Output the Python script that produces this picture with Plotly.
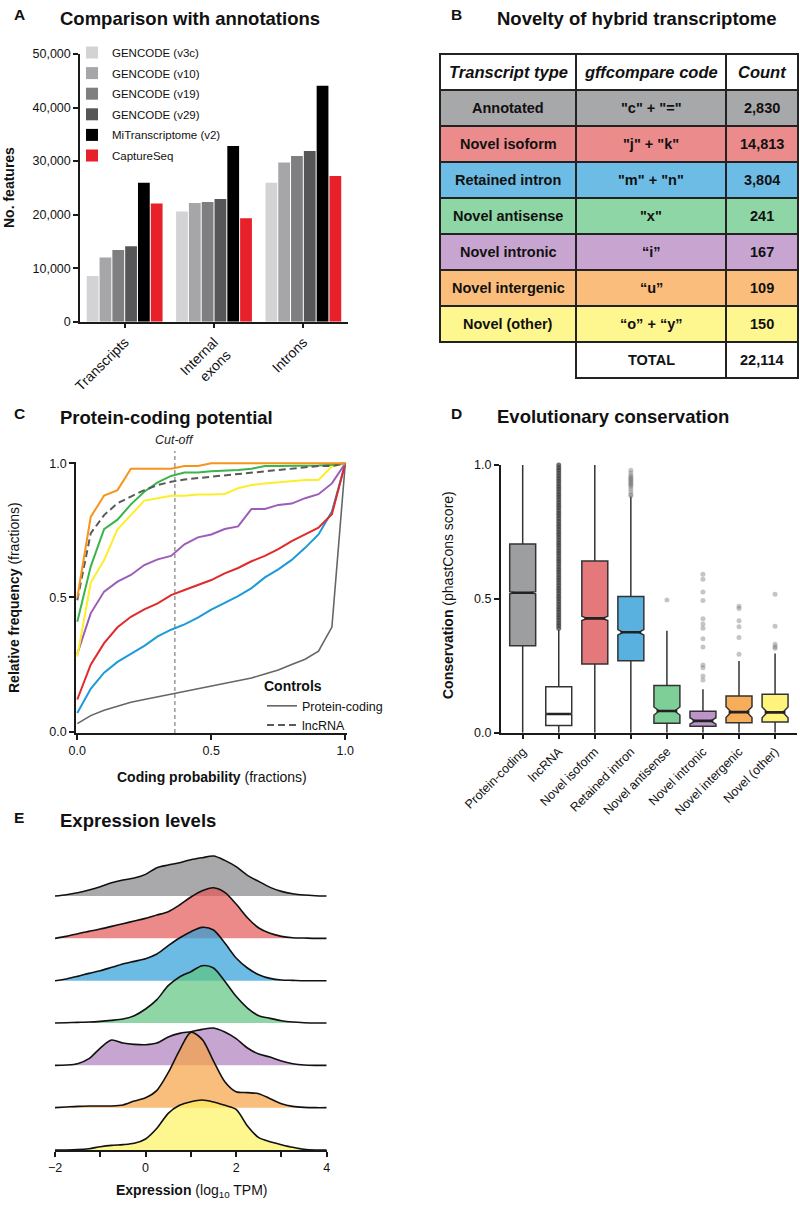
import plotly.graph_objects as go

W, H = 800, 1205
FONT = "Liberation Sans, Arial, Helvetica, sans-serif"

# ======================= DATA =======================
# ---- Panel A: comparison with annotations ----
A_categories = ["Transcripts", "Internal<br>exons", "Introns"]
A_series = ["GENCODE (v3c)", "GENCODE (v10)", "GENCODE (v19)", "GENCODE (v29)",
            "MiTranscriptome (v2)", "CaptureSeq"]
A_gencode_v3c = [8550, 20600, 25950]
A_gencode_v10 = [12000, 22150, 29750]
A_gencode_v19 = [13400, 22350, 30950]
A_gencode_v29 = [14100, 22900, 31900]
A_mitranscriptome = [25950, 32800, 44050]
A_captureseq = [22100, 19300, 27200]
A_yticks = [0, 10000, 20000, 30000, 40000, 50000]

# ---- Panel B: novelty table ----
B_header = ["Transcript type", "gffcompare code", "Count"]
B_types = ["Annotated", "Novel isoform", "Retained intron", "Novel antisense",
           "Novel intronic", "Novel intergenic", "Novel (other)"]
B_codes = ['"c" + "="', '"j" + "k"', '"m" + "n"', '"x"', "“i”", "“u”", "“o” + “y”"]
B_counts = [2830, 14813, 3804, 241, 167, 109, 150]
B_total_label = "TOTAL"

# ---- Panel C: protein-coding potential (cumulative fractions) ----
C_x = [0.0, 0.05, 0.1, 0.15, 0.2, 0.25, 0.3, 0.35, 0.4, 0.45, 0.5,
       0.55, 0.6, 0.65, 0.7, 0.75, 0.8, 0.85, 0.9, 0.95, 1.0]
C_protein_coding = [0.03, 0.06, 0.08, 0.095, 0.11, 0.12, 0.13, 0.14, 0.15, 0.16, 0.17,
                    0.18, 0.19, 0.20, 0.215, 0.23, 0.25, 0.27, 0.30, 0.39, 1.0]
C_retained_intron = [0.07, 0.16, 0.22, 0.26, 0.29, 0.32, 0.355, 0.38, 0.40, 0.425, 0.455,
                     0.48, 0.505, 0.535, 0.575, 0.605, 0.64, 0.685, 0.735, 0.82, 1.0]
C_novel_isoform = [0.12, 0.25, 0.33, 0.389, 0.428, 0.456, 0.478, 0.509, 0.528, 0.545, 0.565,
                   0.59, 0.61, 0.635, 0.655, 0.68, 0.71, 0.735, 0.76, 0.81, 1.0]
C_novel_intronic = [0.29, 0.441, 0.522, 0.559, 0.584, 0.621, 0.642, 0.655, 0.698, 0.724, 0.735,
                    0.755, 0.765, 0.83, 0.83, 0.845, 0.85, 0.87, 0.885, 0.925, 1.0]
C_novel_other = [0.28, 0.555, 0.64, 0.754, 0.807, 0.861, 0.87, 0.879, 0.879, 0.884, 0.884,
                 0.886, 0.907, 0.919, 0.925, 0.93, 0.935, 0.938, 0.938, 0.988, 1.0]
C_novel_antisense = [0.41, 0.615, 0.755, 0.79, 0.847, 0.894, 0.929, 0.953, 0.966, 0.966, 0.97,
                     0.972, 0.975, 0.98, 0.99, 0.99, 0.99, 0.99, 0.992, 0.995, 1.0]
C_lncrna = [0.49, 0.739, 0.807, 0.851, 0.876, 0.90, 0.919, 0.931, 0.94, 0.945, 0.95,
            0.955, 0.96, 0.965, 0.97, 0.975, 0.98, 0.985, 0.99, 0.99, 1.0]
C_novel_intergenic = [0.50, 0.80, 0.88, 0.90, 0.98, 0.98, 0.98, 0.98, 0.99, 0.99, 1.0,
                      1.0, 1.0, 1.0, 1.0, 1.0, 1.0, 1.0, 1.0, 1.0, 1.0]
C_cutoff = 0.364
C_ticks = [0.0, 0.5, 1.0]
C_ticktext = ["0.0", "0.5", "1.0"]

# ---- Panel D: evolutionary conservation (box statistics) ----
D_names = ["Protein-coding", "lncRNA", "Novel isoform", "Retained intron",
           "Novel antisense", "Novel intronic", "Novel intergenic", "Novel (other)"]
D_q1 = [0.325, 0.027, 0.257, 0.269, 0.035, 0.024, 0.037, 0.040]
D_median = [0.523, 0.070, 0.427, 0.375, 0.081, 0.044, 0.077, 0.076]
D_q3 = [0.705, 0.172, 0.641, 0.509, 0.176, 0.080, 0.137, 0.144]
D_lowerfence = [0.0, 0.0, 0.0, 0.0, 0.0, 0.0, 0.0, 0.0]
D_upperfence = [1.0, 0.384, 1.0, 0.882, 0.381, 0.162, 0.268, 0.296]
D_notchspan = [0.004, 0.003, 0.008, 0.010, 0.015, 0.012, 0.020, 0.020]
D_outliers = [
    [],
    [0.39, 0.40, 0.41, 0.42, 0.43, 0.44, 0.45, 0.46, 0.47, 0.48, 0.49, 0.50, 0.51,
     0.52, 0.53, 0.54, 0.55, 0.56, 0.57, 0.58, 0.59, 0.60, 0.61, 0.62, 0.63, 0.64,
     0.65, 0.66, 0.67, 0.68, 0.69, 0.70, 0.71, 0.72, 0.73, 0.74, 0.75, 0.76, 0.77,
     0.78, 0.79, 0.80, 0.81, 0.82, 0.83, 0.84, 0.85, 0.86, 0.87, 0.88, 0.89, 0.90,
     0.91, 0.92, 0.93, 0.94, 0.95, 0.96, 0.97, 0.98, 0.99, 1.00],
    [],
    [0.885, 0.89, 0.90, 0.91, 0.92, 0.925, 0.93, 0.935, 0.94, 0.945, 0.95, 0.955,
     0.96, 0.97, 0.98],
    [0.496],
    [0.592, 0.573, 0.526, 0.494, 0.426, 0.406, 0.39, 0.351, 0.32, 0.253, 0.243,
     0.212, 0.197],
    [0.472, 0.464, 0.418, 0.396, 0.356, 0.293],
    [0.517, 0.398, 0.33, 0.321, 0.315],
]
D_ticks = [0.0, 0.5, 1.0]
D_ticktext = ["0.0", "0.5", "1.0"]

# ---- Panel E: expression levels (ridge densities, relative heights) ----
E_names = ["Annotated", "Novel isoform", "Retained intron", "Novel antisense",
           "Novel intronic", "Novel intergenic", "Novel (other)"]
E_x = [-2.0, -1.75, -1.5, -1.25, -1.0, -0.75, -0.5, -0.25, 0.0, 0.25, 0.5, 0.75,
       1.0, 1.25, 1.5, 1.75, 2.0, 2.25, 2.5, 2.75, 3.0, 3.25, 3.5, 3.75, 4.0]
E_annotated = [0, 4, 10, 18, 28, 40, 48, 54, 65, 85, 93, 100,
               109, 115, 120, 107, 88, 62, 44, 26, 14, 7, 3, 1, 0]
E_novel_isoform = [0, 6, 14, 21, 28, 36, 44, 52, 60, 70, 80, 100,
                   124, 143, 152, 138, 103, 62, 31, 15, 6, 2, 1, 0, 0]
E_retained_intron = [0, 5, 13, 22, 30, 40, 50, 58, 66, 80, 105, 128,
                     147, 160, 152, 113, 68, 38, 18, 7, 2, 1, 0, 0, 0]
E_novel_antisense = [0, 1, 2, 3, 5, 8, 12, 22, 42, 70, 112, 138,
                     154, 172, 165, 125, 80, 45, 22, 14, 7, 3, 1, 0, 0]
E_novel_intronic = [0, 1, 5, 20, 52, 76, 67, 63, 62, 67, 85, 96,
                    101, 108, 112, 100, 80, 52, 34, 25, 13, 5, 1, 0, 0]
E_novel_intergenic = [0, 2, 4, 5, 5, 5, 8, 20, 30, 52, 105, 172,
                      226, 205, 140, 78, 48, 45, 42, 27, 12, 4, 1, 0, 0]
E_novel_other = [0, 0, 1, 4, 10, 14, 16, 20, 33, 65, 110, 134,
                 145, 150, 144, 134, 122, 72, 37, 25, 16, 8, 2, 0, 0]
E_ticks = [-2, 0, 2, 4]
E_ticktext = ["−2", "0", "2", "4"]

# ======================= STYLE =======================
AXC = "#1a1a1a"
A_colors = ["#d3d3d5", "#a6a6a9", "#7f7f82", "#565658", "#000000", "#e8202a"]
B_row_colors = ["#a7a8aa", "#ec8b8b", "#6dbce5", "#8fd6a6", "#c7a5d0", "#fabd7b", "#fef78f"]
D_colors = ["#9d9ea0", "#ffffff", "#e5787a", "#58b1df", "#7dce97", "#bc94c9", "#f8ad5b", "#fdf37d"]
E_fill = ["rgba(132,132,135,0.7)", "rgba(226,88,86,0.7)", "rgba(45,158,217,0.7)",
          "rgba(95,197,128,0.7)", "rgba(174,127,188,0.7)", "rgba(248,162,68,0.7)",
          "rgba(254,242,95,0.7)"]
E_SCALE = 1 / 127.0   # relative height -> ridge spacing units
D_BOXW = 0.72
D_NOTCHW = 0.2


def px(x):
    return x / W


def py(y):
    return 1 - y / H


fig = go.Figure()

# ---------------- Panel A ----------------
A_values = [A_gencode_v3c, A_gencode_v10, A_gencode_v19, A_gencode_v29,
            A_mitranscriptome, A_captureseq]
for name, vals, col in zip(A_series, A_values, A_colors):
    fig.add_trace(go.Bar(x=A_categories, y=vals, name=name,
                         marker=dict(color=col, line=dict(width=0)),
                         xaxis="x", yaxis="y", legend="legend", legendgroup=name,
                         hoverinfo="skip"))

# ---------------- Panel C ----------------
C_lines = [
    ("Protein-coding", C_protein_coding, "#666666", 1.6, "solid", True),
    ("Retained intron", C_retained_intron, "#1c9bd8", 2, "solid", False),
    ("Novel isoform", C_novel_isoform, "#e02a2c", 2, "solid", False),
    ("Novel intronic", C_novel_intronic, "#9c5db8", 2, "solid", False),
    ("Novel (other)", C_novel_other, "#fcee2a", 2, "solid", False),
    ("Novel antisense", C_novel_antisense, "#39b54a", 2, "solid", False),
    ("lncRNA", C_lncrna, "#5a5a5a", 2, "7px,4px", True),
    ("Novel intergenic", C_novel_intergenic, "#f7941d", 2, "solid", False),
]
for name, ys, col, wd, dash, inleg in C_lines:
    fig.add_trace(go.Scatter(x=C_x, y=ys, mode="lines", name=name,
                             line=dict(color=col, width=wd, dash=dash),
                             xaxis="x2", yaxis="y2", showlegend=inleg,
                             legend="legend2", legendgroup="controls", hoverinfo="skip"))

# ---------------- Panel D ----------------
for i, name in enumerate(D_names):
    fig.add_trace(go.Box(x=[i], q1=[D_q1[i]], median=[D_median[i]], q3=[D_q3[i]],
                         lowerfence=[D_lowerfence[i]], upperfence=[D_upperfence[i]],
                         notchspan=[D_notchspan[i]], notched=True, notchwidth=D_NOTCHW,
                         width=D_BOXW, whiskerwidth=0, boxpoints=False,
                         fillcolor=D_colors[i], line=dict(color="#333333", width=1.5),
                         name=name, showlegend=False, xaxis="x3", yaxis="y3",
                         hoverinfo="skip"))
    hw = D_BOXW / 2 * (1 - D_NOTCHW)
    fig.add_trace(go.Scatter(x=[i - hw, i + hw], y=[D_median[i], D_median[i]], mode="lines",
                             line=dict(color="#222222", width=2.6), showlegend=False,
                             xaxis="x3", yaxis="y3", hoverinfo="skip"))
for i, pts in enumerate(D_outliers):
    if not pts:
        continue
    col = "rgba(60,60,60,0.75)" if i == 1 else "rgba(110,110,110,0.4)"
    fig.add_trace(go.Scatter(x=[i] * len(pts), y=pts, mode="markers",
                             marker=dict(size=5, color=col, line=dict(width=0)),
                             cliponaxis=False, showlegend=False,
                             xaxis="x3", yaxis="y3", hoverinfo="skip"))

# ---------------- Panel E ----------------
E_values = [E_annotated, E_novel_isoform, E_retained_intron, E_novel_antisense,
            E_novel_intronic, E_novel_intergenic, E_novel_other]
nR = len(E_names)
for i, (name, dens) in enumerate(zip(E_names, E_values)):
    base = nR - 1 - i
    fig.add_trace(go.Scatter(x=E_x, y=[base] * len(E_x), mode="lines",
                             line=dict(width=0, color="rgba(0,0,0,0)"),
                             showlegend=False, xaxis="x4", yaxis="y4", hoverinfo="skip"))
    fig.add_trace(go.Scatter(x=E_x, y=[base + d * E_SCALE for d in dens], mode="lines",
                             name=name, fill="tonexty", fillcolor=E_fill[i],
                             line=dict(color="#111111", width=1.6, shape="spline", smoothing=0.8),
                             showlegend=False, xaxis="x4", yaxis="y4", hoverinfo="skip"))

# ---------------- Panel B (table on a hidden axis) ----------------
col_edges = [0, 136, 286, 358]
shapes = []
annotations = []
B_rows = [(B_header, "#ffffff", True)]
for t, c, n, colr in zip(B_types, B_codes, B_counts, B_row_colors):
    B_rows.append(([t, c, f"{n:,}"], colr, False))
B_rows.append((["", B_total_label, f"{sum(B_counts):,}"], "#ffffff", False))
for r, (cells, fillc, is_header) in enumerate(B_rows):
    for c in range(3):
        if r == len(B_rows) - 1 and c == 0:
            continue
        shapes.append(dict(type="rect", xref="x5", yref="y5",
                           x0=col_edges[c], x1=col_edges[c + 1], y0=r, y1=r + 1,
                           fillcolor=fillc, line=dict(color="#222222", width=2),
                           layer="below"))
        txt = cells[c]
        if is_header:
            txt = f"<b><i>{txt}</i></b>"
            fs = 16.5
        else:
            txt = f"<b>{txt}</b>"
            fs = 14.5
        annotations.append(dict(xref="x5", yref="y5",
                                x=(col_edges[c] + col_edges[c + 1]) / 2, y=r + 0.5,
                                text=txt, showarrow=False, xanchor="center", yanchor="middle",
                                font=dict(size=fs, color="#111111")))

# cut-off line in panel C
shapes.append(dict(type="line", xref="x2", yref="y2 domain", x0=C_cutoff, x1=C_cutoff,
                   y0=0, y1=1.04, line=dict(color="#999999", width=1.5, dash="4px,3px"),
                   layer="below"))
annotations.append(dict(xref="x2", yref="y2 domain", x=C_cutoff, y=1.08,
                        text="<i>Cut-off</i>", showarrow=False, xanchor="center",
                        yanchor="middle", font=dict(size=12.5, color="#222222")))


def ann(text, x, y, size, xanchor="left", yanchor="middle", angle=0):
    return dict(xref="paper", yref="paper", x=px(x), y=py(y), text=text, showarrow=False,
                xanchor=xanchor, yanchor=yanchor, textangle=angle,
                font=dict(size=size, color="#111111"))


# panel letters & titles
for letter, x, y in [("A", 12, 15), ("B", 449, 15), ("C", 12, 413), ("D", 449, 413), ("E", 12, 817)]:
    annotations.append(ann(f"<b>{letter}</b>", x, y, 15.5))
for title, x, y in [("Comparison with annotations", 58, 19),
                    ("Novelty of hybrid transcriptome", 495, 19),
                    ("Protein-coding potential", 58, 417),
                    ("Evolutionary conservation", 495, 416),
                    ("Expression levels", 58, 820)]:
    annotations.append(ann(f"<b>{title}</b>", x, y, 18.5))

# axis titles
annotations.append(ann("<b>No. features</b>", 9, 188, 14, "center", "middle", -90))
annotations.append(ann("<b>Relative frequency</b> (fractions)", 14, 598, 14, "center", "middle", -90))
annotations.append(ann("<b>Coding probability</b> (fractions)", 212, 777, 14, "center", "middle"))
annotations.append(ann("<b>Conservation</b> (phastCons score)", 448, 595, 14, "center", "middle", -90))
annotations.append(ann("<b>Expression</b> (log<sub>10</sub> TPM)", 191, 1191, 14, "center", "middle"))

axis_common = dict(showline=True, linecolor=AXC, linewidth=1.5, ticks="outside", ticklen=5,
                   tickwidth=1.5, tickcolor=AXC, showgrid=False, zeroline=False,
                   tickfont=dict(size=12.5, color="#111111"), fixedrange=True)

pad = 0.005
fig.update_layout(
    width=W, height=H, margin=dict(l=0, r=0, t=0, b=0), template="none",
    paper_bgcolor="white", plot_bgcolor="rgba(0,0,0,0)",
    font=dict(family=FONT, color="#111111"),
    barmode="group", bargap=0.14, bargroupgap=0.08, boxmode="overlay",
    showlegend=True,
    legend=dict(x=px(72), y=py(38), xanchor="left", yanchor="top",
                font=dict(size=11.5), bgcolor="rgba(0,0,0,0)", tracegroupgap=1.6,
                traceorder="grouped"),
    legend2=dict(title=dict(text="<b>Controls</b>", font=dict(size=14), side="top"),
                 x=px(262), y=py(673), xanchor="left", yanchor="top",
                 font=dict(size=12.5), bgcolor="rgba(0,0,0,0)", tracegroupgap=0),
    # A
    xaxis=dict(domain=[px(80), px(348)], anchor="y", type="category", range=[-0.5, 2.5],
               tickangle=-45, **{k: v for k, v in axis_common.items() if k != "tickfont"},
               tickfont=dict(size=14, color="#111111")),
    yaxis=dict(domain=[py(321.7), py(54)], anchor="x", range=[0, 50000],
               tickvals=A_yticks, tickformat=",", **axis_common),
    # C
    xaxis2=dict(domain=[px(77.3 - 268 * pad), px(345.3 + 268 * pad)], anchor="y2",
                range=[-pad, 1 + pad], tickvals=C_ticks, ticktext=C_ticktext, **axis_common),
    yaxis2=dict(domain=[py(731.7 + 268.4 * pad), py(463.3 - 268.4 * pad)], anchor="x2",
                range=[-pad, 1 + pad], tickvals=C_ticks, ticktext=C_ticktext, **axis_common),
    # D
    xaxis3=dict(domain=[px(500.7), px(796.7)], anchor="y3", range=[-0.61, 7.6],
                tickvals=list(range(len(D_names))), ticktext=D_names, tickangle=-45,
                **axis_common),
    yaxis3=dict(domain=[py(732.7), py(465)], anchor="x3", range=[0, 1],
                tickvals=D_ticks, ticktext=D_ticktext, **axis_common),
    # E
    xaxis4=dict(domain=[px(55), px(326.7)], anchor="y4", range=[-2, 4],
                tickvals=E_ticks, ticktext=E_ticktext,
                minor=dict(ticks="outside", ticklen=5, tickwidth=1.5, tickcolor=AXC,
                           tick0=-2, dtick=1, showgrid=False),
                **axis_common),
    yaxis4=dict(domain=[py(1150), py(853.7)], anchor="x4", range=[0, 7], visible=False,
                fixedrange=True),
    # B table axis
    xaxis5=dict(domain=[px(438.5), px(799.5)], anchor="y5", range=[-1.5, 359.5],
                visible=False, fixedrange=True),
    yaxis5=dict(domain=[py(379.5), py(52.5)], anchor="x5",
                range=[9 + 1.5 / 36, -1.5 / 36], visible=False, fixedrange=True),
    shapes=shapes,
    annotations=annotations,
)

fig.write_html("out.html", config={"displayModeBar": False},
               post_script="document.body.style.margin='0px';document.body.style.overflow='hidden';")
